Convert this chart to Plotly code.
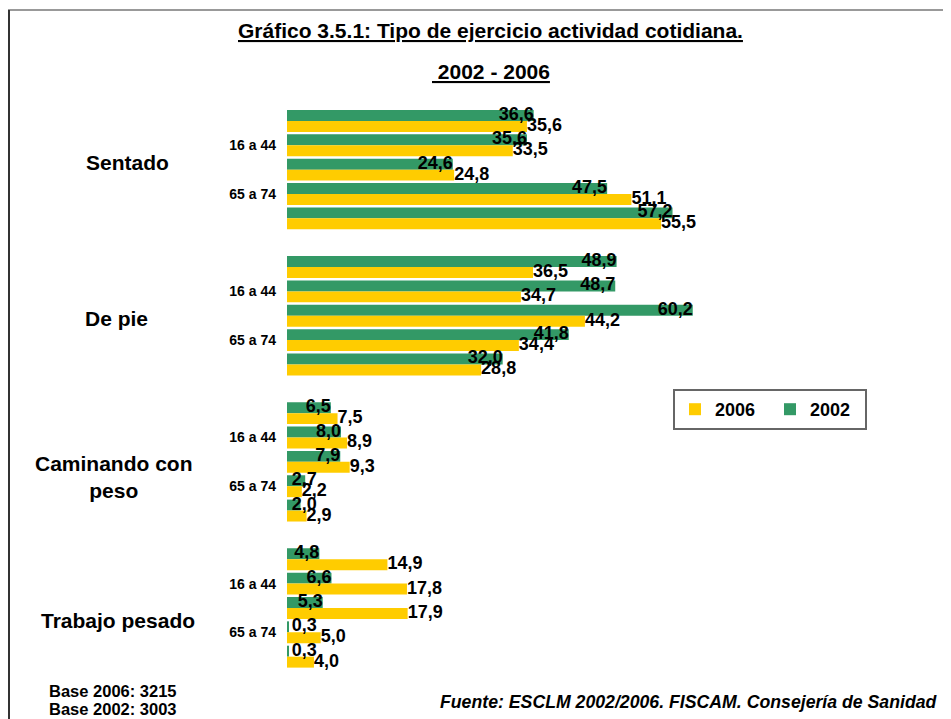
import plotly.graph_objects as go
import numpy as np

# ---------------- data ----------------
activities = ["Sentado", "De pie", "Caminando con<br>peso", "Trabajo pesado"]
age_tick_labels = ["", "16 a 44", "", "65 a 74", ""]
values_2002 = [36.6, 35.6, 24.6, 47.5, 57.2,
               48.9, 48.7, 60.2, 41.8, 32.0,
               6.5, 8.0, 7.9, 2.7, 2.0,
               4.8, 6.6, 5.3, 0.3, 0.3]
values_2006 = [35.6, 33.5, 24.8, 51.1, 55.5,
               36.5, 34.7, 44.2, 34.4, 28.8,
               7.5, 8.9, 9.3, 2.2, 2.9,
               14.9, 17.8, 17.9, 5.0, 4.0]
series_names = ["2006", "2002"]

# ---------------- layout helpers ----------------
OFF = 8  # page body margin of the browser
WIDTH, HEIGHT = 951 - OFF, 719 - OFF
L, T = 287 - OFF, 96 - OFF
PLOT_RIGHT, PLOT_BOTTOM = 860 - OFF, 680 - OFF
R, B = WIDTH - PLOT_RIGHT, HEIGHT - PLOT_BOTTOM
PW, PH = WIDTH - L - R, HEIGHT - T - B
PX_PER_UNIT_X = 6.74
PX_PER_SLOT = 24.35
GREEN = "#339966"
YELLOW = "#FFCC00"
FONT = "Liberation Sans, Arial, sans-serif"


def px_x(x):
    """reference-picture x pixel -> paper coordinate"""
    return (x - OFF - L) / PW


def px_y(y):
    """reference-picture y pixel -> paper coordinate"""
    return (HEIGHT - B - (y - OFF)) / PH


n_age = len(age_tick_labels)
slot = n_age + 1
pos = np.array([g * slot + s for g in range(len(activities)) for s in range(n_age)], dtype=float)
half = 0.225
bar_w = 0.45
v02 = np.array(values_2002)
v06 = np.array(values_2006)


def fmt(v):
    return f"{v:.1f}".replace(".", ",")


fig = go.Figure()

fig.add_trace(go.Bar(
    x=v02, y=pos - half, width=bar_w, orientation="h",
    marker=dict(color=GREEN, line=dict(width=0)),
    name=f"<b>{series_names[1]}</b>", legendrank=2, hoverinfo="x"))
fig.add_trace(go.Bar(
    x=v06, y=pos + half, width=bar_w, orientation="h",
    marker=dict(color=YELLOW, line=dict(width=0)),
    name=f"<b>{series_names[0]}</b>", legendrank=1, hoverinfo="x"))

label_font = dict(family=FONT, size=18, color="black")
fig.add_trace(go.Scatter(
    x=np.maximum(v02, 4.4), y=pos - half, mode="text",
    text=[f"<b>{fmt(v)}</b>" for v in v02], textposition="middle left",
    textfont=label_font, showlegend=False, hoverinfo="skip", cliponaxis=False))
fig.add_trace(go.Scatter(
    x=v06, y=pos + half, mode="text",
    text=[f"<b>{fmt(v)}</b>" for v in v06], textposition="middle right",
    textfont=label_font, showlegend=False, hoverinfo="skip", cliponaxis=False))

tickvals = [g * slot + s for g in range(len(activities)) for s in range(n_age) if age_tick_labels[s]]
ticktext = [f"<b>{age_tick_labels[s]}</b>" for g in range(len(activities)) for s in range(n_age) if age_tick_labels[s]]

annotations = []
# group labels (x centre px, y centre px in the reference picture)
group_label_px = [(127, 163), (116, 318), (114, 477), (118, 620)]
for name, (gx, gy) in zip(activities, group_label_px):
    annotations.append(dict(
        text=f"<b>{name}</b>", x=px_x(gx), y=px_y(gy), xref="paper", yref="paper",
        xanchor="center", yanchor="middle", showarrow=False, align="center",
        font=dict(family=FONT, size=21, color="black")))

annotations += [
    dict(text="<b><u>Gráfico 3.5.1: Tipo de ejercicio actividad cotidiana.</u></b>",
         x=px_x(490), y=px_y(30), xref="paper", yref="paper", xanchor="center", yanchor="middle",
         showarrow=False, font=dict(family=FONT, size=21, color="black")),
    dict(text="<b><u> 2002 - 2006</u></b>",
         x=px_x(491), y=px_y(71), xref="paper", yref="paper", xanchor="center", yanchor="middle",
         showarrow=False, font=dict(family=FONT, size=21, color="black")),
    dict(text="<b>Base 2006: 3215</b>", x=px_x(47), y=px_y(691), xref="paper", yref="paper",
         xanchor="left", yanchor="middle", showarrow=False,
         font=dict(family=FONT, size=16.5, color="black")),
    dict(text="<b>Base 2002: 3003</b>", x=px_x(47), y=px_y(709), xref="paper", yref="paper",
         xanchor="left", yanchor="middle", showarrow=False,
         font=dict(family=FONT, size=16.5, color="black")),
    dict(text="<b><i>Fuente: ESCLM 2002/2006. FISCAM. Consejería de Sanidad</i></b>",
         x=px_x(940), y=px_y(702), xref="paper", yref="paper",
         xanchor="right", yanchor="middle", showarrow=False,
         font=dict(family=FONT, size=17.7, color="black")),
]

shapes = [
    dict(type="line", xref="paper", yref="paper", x0=px_x(8), x1=px_x(951), y0=px_y(10), y1=px_y(10),
         line=dict(color="#999999", width=2)),
    dict(type="line", xref="paper", yref="paper", x0=px_x(9), x1=px_x(9), y0=px_y(10), y1=px_y(719),
         line=dict(color="#333333", width=2)),
]

units = PH / PX_PER_SLOT
top = -bar_w - (110 - 96) / PX_PER_SLOT

fig.update_layout(
    width=WIDTH, height=HEIGHT,
    margin=dict(l=L, r=R, t=T, b=B, autoexpand=False),
    paper_bgcolor="white", plot_bgcolor="white",
    barmode="overlay",
    showlegend=True,
    legend=dict(orientation="h", xref="container", yref="container",
                x=(673 - OFF) / WIDTH, y=1 - (389 - OFF) / HEIGHT, xanchor="left", yanchor="top",
                bgcolor="white", bordercolor="#666666", borderwidth=2,
                font=dict(family=FONT, size=18, color="black"),
                traceorder="normal", itemwidth=30,
                entrywidth=50, entrywidthmode="pixels"),
    xaxis=dict(range=[0, PW / PX_PER_UNIT_X], visible=False, showgrid=False, zeroline=False),
    yaxis=dict(range=[top + units, top], tickvals=tickvals, ticktext=ticktext,
               showgrid=False, zeroline=False, showline=False, ticks="",
               ticklabelstandoff=10,
               tickfont=dict(family=FONT, size=14, color="black")),
    annotations=annotations,
    shapes=shapes,
    font=dict(family=FONT),
)

fig.write_html("out.html")
